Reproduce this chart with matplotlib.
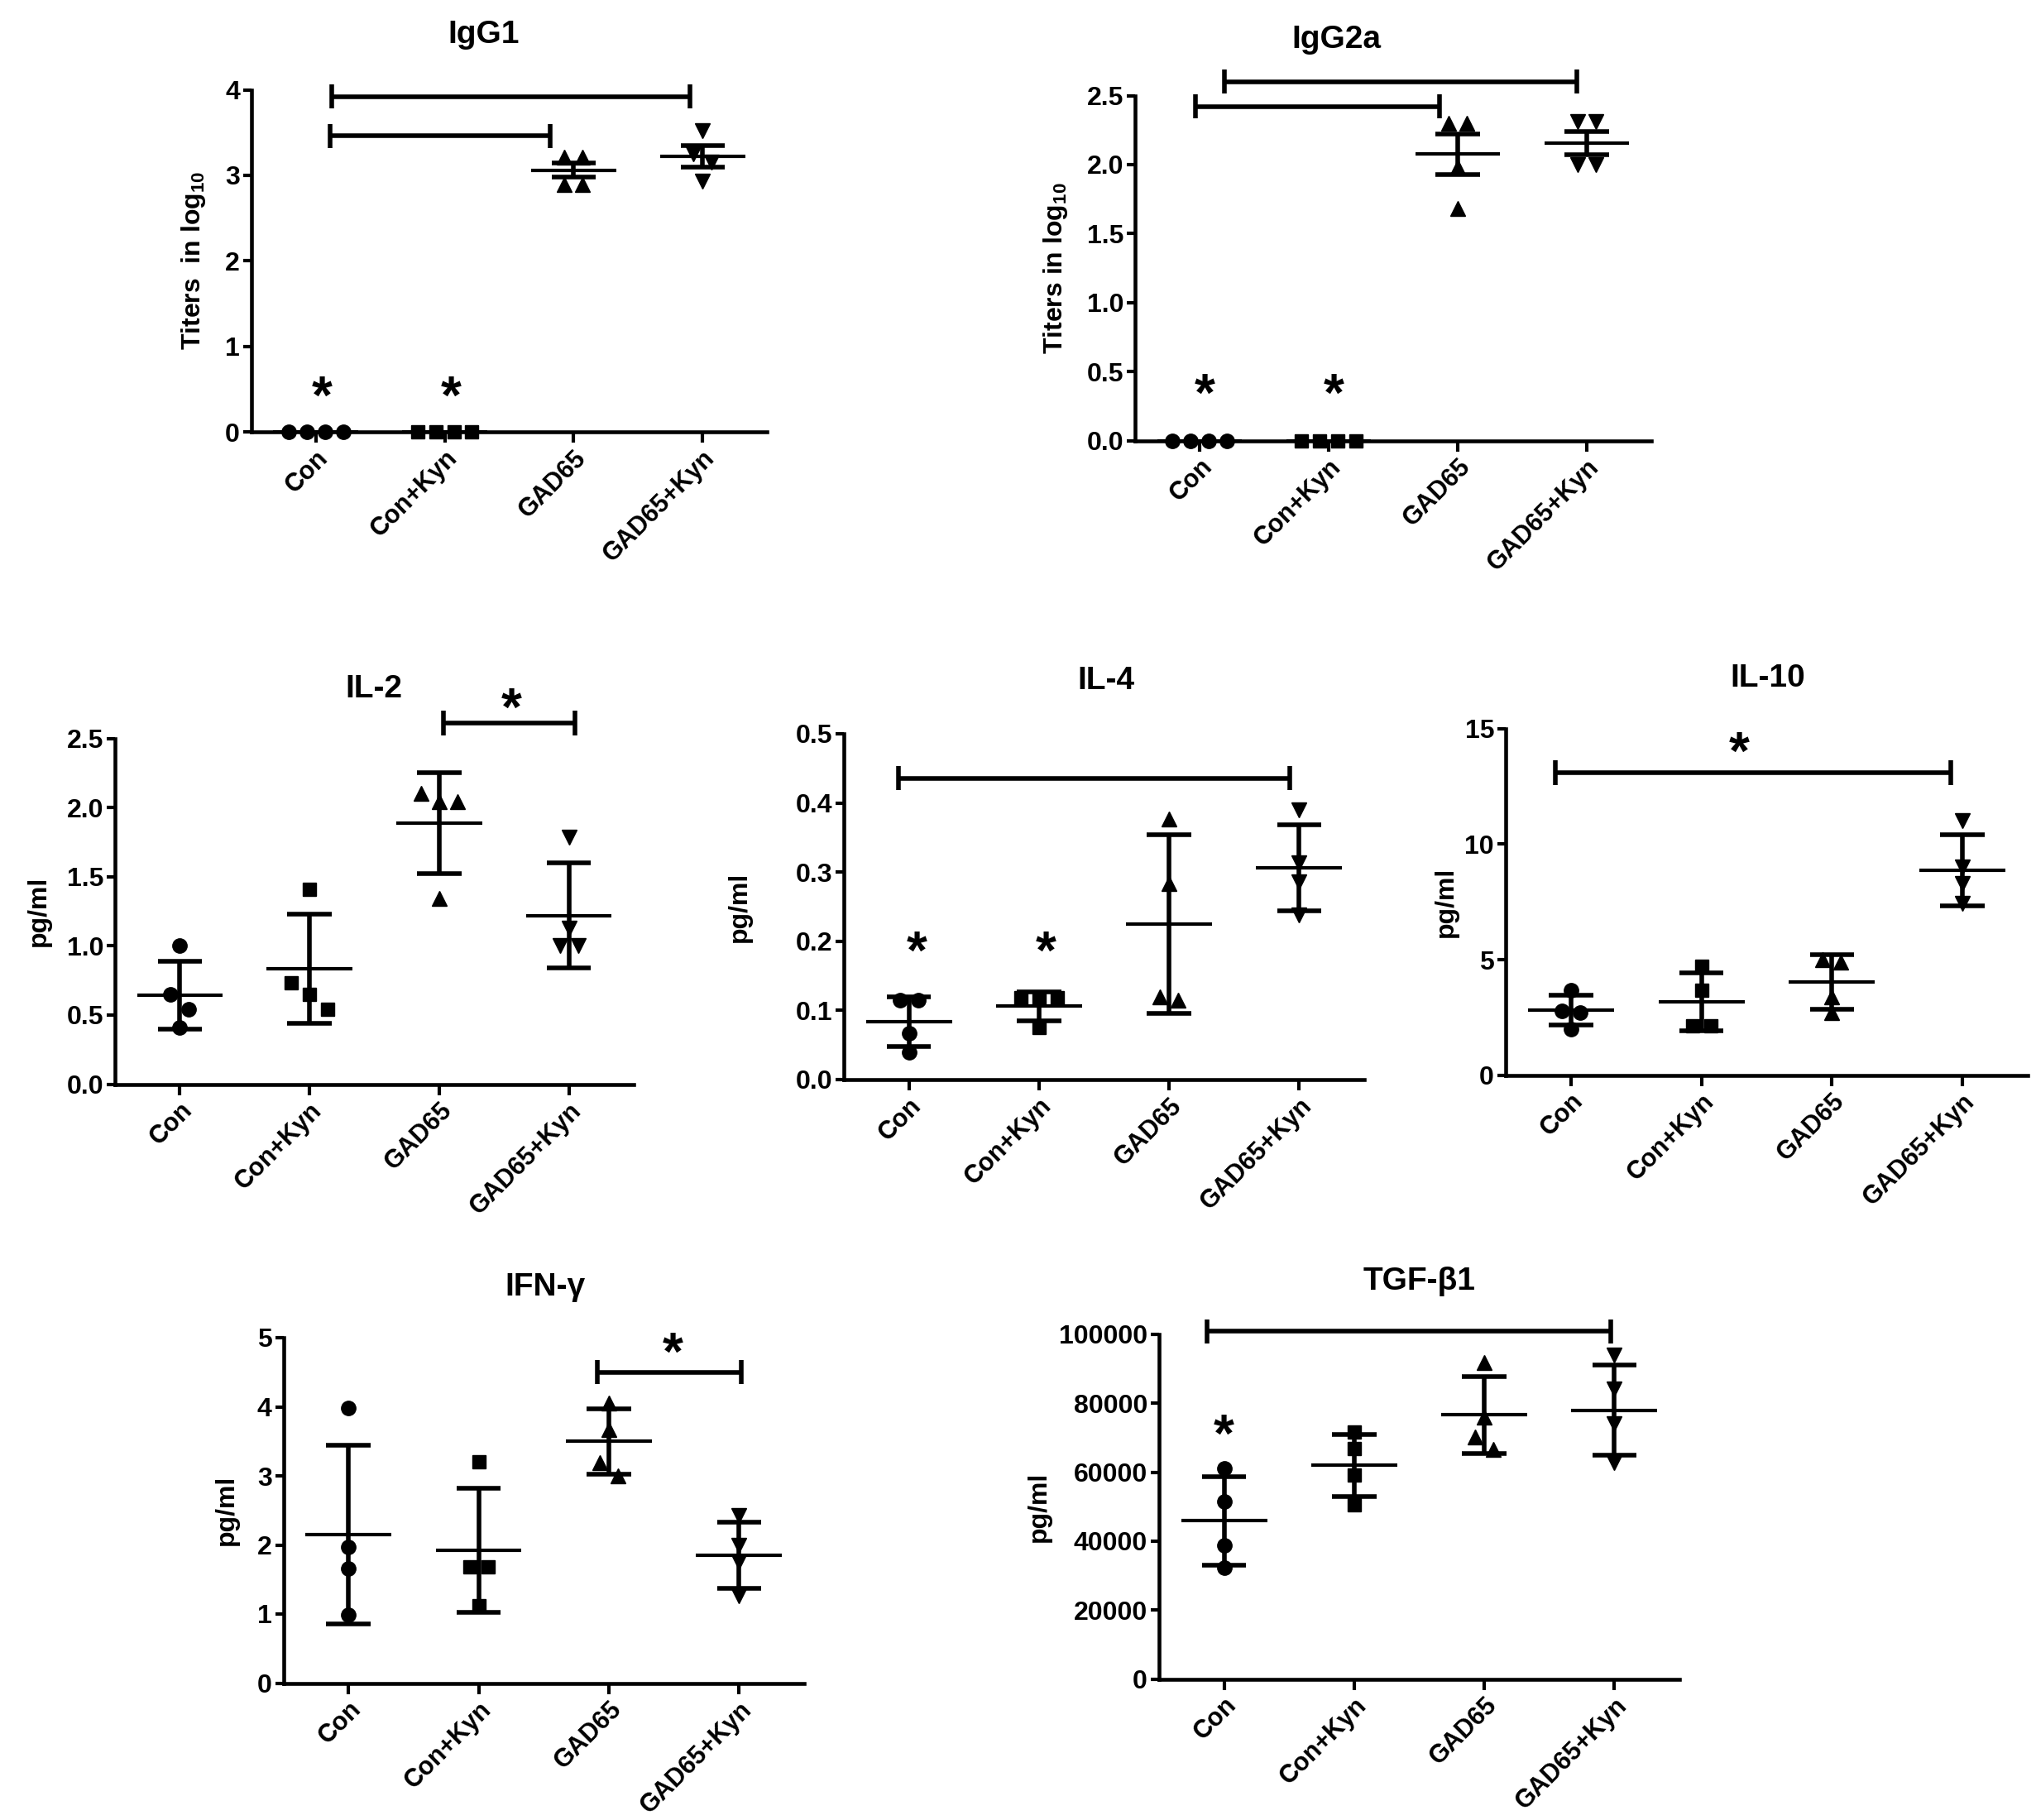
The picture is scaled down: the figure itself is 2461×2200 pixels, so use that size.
import matplotlib
matplotlib.use("Agg")
import matplotlib.pyplot as plt
import numpy as np

plt.rcParams['font.family'] = ['Liberation Sans', 'DejaVu Sans']
plt.rcParams['font.weight'] = 'bold'
plt.rcParams['mathtext.fontset'] = 'custom'
plt.rcParams['mathtext.rm'] = 'Liberation Sans:bold'
plt.rcParams['mathtext.bf'] = 'Liberation Sans:bold'
plt.rcParams['mathtext.default'] = 'bf'

# ---------------- data ----------------
categories = ["Con", "Con+Kyn", "GAD65", "GAD65+Kyn"]
markers = ['o', 's', '^', 'v']

igg1_values = [[0, 0, 0, 0], [0, 0, 0, 0], [3.21, 3.21, 2.89, 2.89], [3.52, 3.25, 3.15, 2.93]]
igg1_mean = [0, 0, 3.06, 3.22]
igg1_err = [0, 0, 0.085, 0.125]
igg1_yticks = [0, 1, 2, 3, 4]
igg1_brackets = [(0.12, 2.90, 3.92), (0.11, 1.82, 3.46)]
igg1_stars = [(0.05, 0.56), (1.05, 0.56)]

igg2a_values = [[0, 0, 0, 0], [0, 0, 0, 0], [2.30, 2.30, 1.98, 1.68], [2.31, 2.31, 2.0, 2.0]]
igg2a_mean = [0, 0, 2.075, 2.155]
igg2a_err = [0, 0, 0.145, 0.085]
igg2a_yticks = [0.0, 0.5, 1.0, 1.5, 2.0, 2.5]
igg2a_brackets = [(-0.03, 1.86, 2.42), (0.19, 2.92, 2.60)]
igg2a_stars = [(0.04, 0.43), (1.04, 0.43)]

il2_values = [[1.0, 0.65, 0.54, 0.41], [1.41, 0.73, 0.65, 0.54], [2.04, 2.04, 2.10, 1.34], [1.785, 1.13, 1.0, 1.0]]
il2_mean = [0.645, 0.835, 1.885, 1.22]
il2_sd = [0.245, 0.395, 0.365, 0.38]
il2_yticks = [0.0, 0.5, 1.0, 1.5, 2.0, 2.5]
il2_brackets = [(2.03, 3.05, 2.61)]
il2_stars = [(2.56, 2.81)]

il4_values = [[0.115, 0.115, 0.067, 0.04], [0.118, 0.118, 0.118, 0.075], [0.377, 0.284, 0.115, 0.12], [0.39, 0.313, 0.286, 0.238]]
il4_mean = [0.084, 0.106, 0.225, 0.306]
il4_sd = [0.036, 0.0205, 0.129, 0.0625]
il4_yticks = [0.0, 0.1, 0.2, 0.3, 0.4, 0.5]
il4_brackets = [(-0.08, 2.93, 0.436)]
il4_stars = [(0.06, 0.2035), (1.05, 0.2035)]

il10_values = [[3.66, 2.78, 2.70, 1.98], [4.73, 3.66, 2.14, 2.14], [5.0, 4.9, 3.4, 2.7], [11.02, 9.02, 8.3, 7.42]]
il10_mean = [2.81, 3.17, 4.03, 8.87]
il10_sd = [0.64, 1.255, 1.175, 1.53]
il10_yticks = [0, 5, 10, 15]
il10_brackets = [(-0.12, 2.91, 13.1)]
il10_stars = [(1.29, 14.54)]

ifn_values = [[3.98, 1.975, 1.66, 0.99], [3.20, 1.686, 1.686, 1.12], [4.05, 3.67, 3.19, 3.0], [2.42, 2.0, 1.76, 1.26]]
ifn_mean = [2.15, 1.92, 3.50, 1.85]
ifn_sd = [1.29, 0.90, 0.475, 0.48]
ifn_yticks = [0, 1, 2, 3, 4, 5]
ifn_brackets = [(1.91, 3.02, 4.50)]
ifn_stars = [(2.49, 4.96)]

tgf_values = [[61200, 51570, 38700, 32300], [71600, 66800, 59070, 50500], [91760, 75900, 70300, 66600], [93900, 84250, 74070, 62830]]
tgf_mean = [45890, 61970, 76600, 78030]
tgf_sd = [12865, 9035, 11195, 13100]
tgf_yticks = [0, 20000, 40000, 60000, 80000, 100000]
tgf_brackets = [(-0.13, 2.97, 100870)]
tgf_stars = [(0.0, 74600)]

# ---------------- layout ----------------
W, H = 2461, 2200
fig = plt.figure(figsize=(W / 100, H / 100), dpi=100)

def fx(px):
    return px / W

def fy(py):
    return 1 - py / H

def dodge(vals, tol, step=0.14):
    vals = np.asarray(vals, dtype=float)
    order = np.argsort(-vals)
    offs = np.zeros(len(vals))
    groups, cur = [], [order[0]]
    for k in order[1:]:
        if abs(vals[cur[-1]] - vals[k]) <= tol:
            cur.append(k)
        else:
            groups.append(cur)
            cur = [k]
    groups.append(cur)
    for g in groups:
        n = len(g)
        for j, k in enumerate(g):
            offs[k] = (j - (n - 1) / 2) * step
    return offs

def panel(box, title, title_xy, ylabel, ylabel_x, values, means, errs,
          yticks, ylabels, brackets, stars):
    left, right, top, bottom = box
    ax = fig.add_axes([fx(left), fy(bottom), fx(right) - fx(left), fy(top) - fy(bottom)])
    ymax = yticks[-1]
    ax.set_xlim(-0.5, 3.5)
    ax.set_ylim(0, ymax)
    for s in ['top', 'right']:
        ax.spines[s].set_visible(False)
    for s in ['left', 'bottom']:
        ax.spines[s].set_linewidth(3.3)
    ax.set_xticks(range(4))
    ax.set_xticklabels(categories, rotation=45, ha='right', va='top',
                       rotation_mode='anchor', fontsize=22, fontweight='bold')
    ax.set_yticks(yticks)
    ax.set_yticklabels(ylabels, fontsize=23, fontweight='bold')
    ax.tick_params(axis='x', direction='out', length=9, width=3.0, pad=3)
    ax.tick_params(axis='y', direction='out', length=7, width=3.0, pad=3)

    for i in range(4):
        vals = values[i]
        offs = dodge(vals, 0.045 * ymax)
        ms = {'o': 12.5, 's': 11.5, '^': 13.5, 'v': 13.5}[markers[i]]
        ax.plot(i + offs, vals, linestyle='none', marker=markers[i], color='black',
                markersize=ms, clip_on=False, zorder=5)
        m, e = means[i], errs[i]
        ax.plot([i - 0.33, i + 0.33], [m, m], color='black', lw=3.0,
                solid_capstyle='butt', zorder=4)
        if e > 0:
            ax.plot([i, i], [m - e, m + e], color='black', lw=4.0,
                    solid_capstyle='butt', zorder=4)
            for yy in (m - e, m + e):
                ax.plot([i - 0.17, i + 0.17], [yy, yy], color='black', lw=4.0,
                        solid_capstyle='butt', zorder=4)

    cap = 0.035 * ymax
    for x1, x2, yb in brackets:
        ax.plot([x1, x2], [yb, yb], color='black', lw=4.0, clip_on=False,
                solid_capstyle='butt')
        for xx in (x1, x2):
            ax.plot([xx, xx], [yb - cap, yb + cap], color='black', lw=4.0,
                    clip_on=False, solid_capstyle='butt')
    fs = 46
    for xs, ys in stars:
        ax.annotate('*', xy=(xs, ys), xytext=(0, -0.56 * fs), textcoords='offset points',
                    ha='center', va='baseline', fontsize=fs, fontweight='bold',
                    annotation_clip=False)

    fig.text(fx(title_xy[0]), fy(title_xy[1]), title, ha='center', va='center',
             fontsize=28, fontweight='bold')
    fig.text(fx(ylabel_x), fy((top + bottom) / 2), ylabel, ha='center', va='center',
             rotation=90, fontsize=23, fontweight='bold')
    return ax

panel((304, 927, 108.5, 522), "IgG1", (585, 42), "Titers  in log$_{10}$", 234,
      igg1_values, igg1_mean, igg1_err, igg1_yticks,
      [str(v) for v in igg1_yticks], igg1_brackets, igg1_stars)

panel((1372, 1996, 115.5, 532.5), "IgG2a", (1615, 48), "Titers in log$_{10}$", 1276,
      igg2a_values, igg2a_mean, igg2a_err, igg2a_yticks,
      ["%.1f" % v for v in igg2a_yticks], igg2a_brackets, igg2a_stars)

panel((139, 766, 892.5, 1310.5), "IL-2", (452, 833), "pg/ml", 47,
      il2_values, il2_mean, il2_sd, il2_yticks,
      ["%.1f" % v for v in il2_yticks], il2_brackets, il2_stars)

panel((1020, 1649, 887, 1305), "IL-4", (1337, 823), "pg/ml", 894,
      il4_values, il4_mean, il4_sd, il4_yticks,
      ["%.1f" % v for v in il4_yticks], il4_brackets, il4_stars)

panel((1820, 2451, 881, 1299.5), "IL-10", (2137, 820), "pg/ml", 1748,
      il10_values, il10_mean, il10_sd, il10_yticks,
      [str(v) for v in il10_yticks], il10_brackets, il10_stars)

panel((342.5, 972, 1617, 2034.5), "IFN-γ", (659, 1556), "pg/ml", 274,
      ifn_values, ifn_mean, ifn_sd, ifn_yticks,
      [str(v) for v in ifn_yticks], ifn_brackets, ifn_stars)

panel((1401, 2030, 1613, 2029.5), "TGF-β1", (1716, 1549), "pg/ml", 1256,
      tgf_values, tgf_mean, tgf_sd, tgf_yticks,
      [str(v) for v in tgf_yticks], tgf_brackets, tgf_stars)

fig.savefig("out.png", dpi=100, facecolor='white')
